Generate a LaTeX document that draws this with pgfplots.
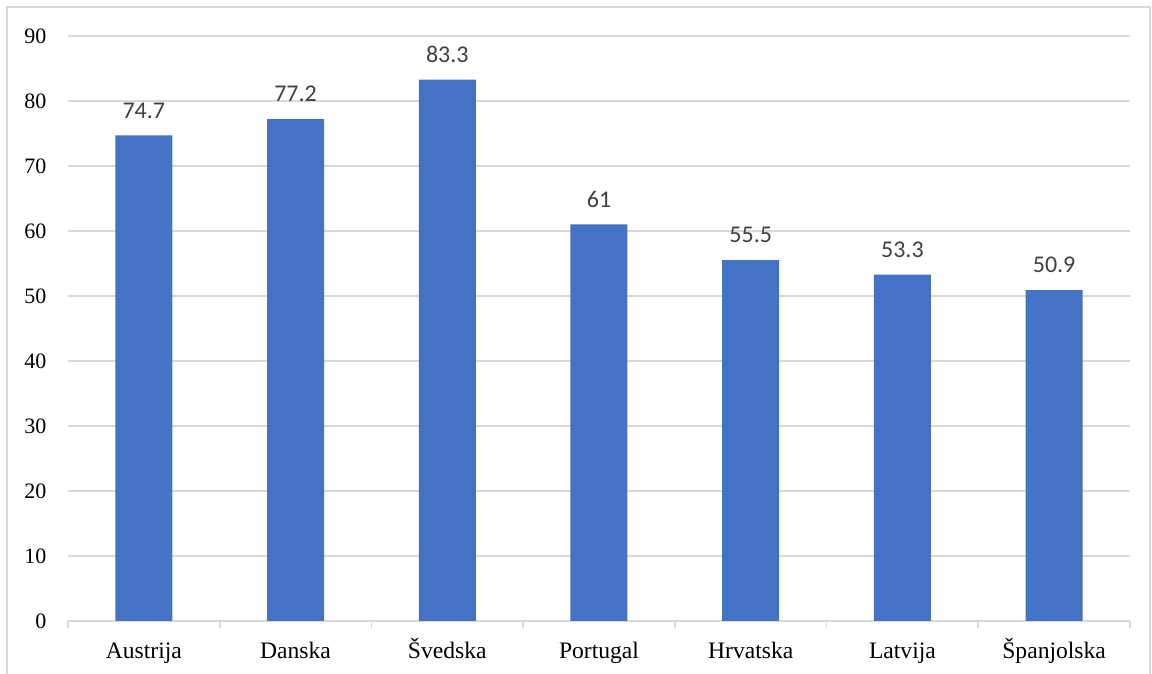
\documentclass[border=0pt]{standalone}
\usepackage{pgfplots}
\pgfplotsset{compat=1.18}
\usepackage{fontspec}
\setmainfont{Liberation Serif}
\newfontfamily\carlito{Carlito}
\definecolor{barblue}{HTML}{4472C4}
\definecolor{gridgrey}{HTML}{D9D9D9}
\definecolor{lblgrey}{HTML}{404040}
\begin{document}
\begin{tikzpicture}
\path[use as bounding box] (0,0) rectangle (576pt,337pt);
\draw[gridgrey, line width=0.6pt] (3.5pt,-10pt) -- (3.5pt,333.5pt) -- (575pt,333.5pt) -- (575pt,-10pt);
\begin{axis}[
  at={(34pt,26.5pt)}, anchor=south west,
  scale only axis, width=531pt, height=292.5pt,
  xmin=-0.5, xmax=6.5, ymin=0, ymax=90,
  axis x line*=bottom, axis y line*=left,
  y axis line style={draw=none},
  x axis line style={draw=gridgrey, line width=0.8pt},
  ytick={0,10,...,90},
  ytick style={draw=none},
  ymajorgrids, major grid style={gridgrey, line width=0.8pt},
  xtick={0,...,6},
  xticklabels={Austrija,Danska,Švedska,Portugal,Hrvatska,Latvija,Španjolska},
  major x tick style={draw=none},
  minor xtick={-0.5,0.5,...,6.5},
  minor x tick style={draw=gridgrey, line width=0.8pt},
  minor tick length=3.5pt,
  tick align=outside,
  /pgf/number format/assume math mode=true,
  tick label style={font=\fontsize{11}{13}\selectfont, black},
  y tick label style={xshift=-3pt},
  x tick label style={font=\fontsize{11.8}{14}\selectfont, anchor=north, text height=8pt, text depth=2.6pt, yshift=-2.8pt},
  ybar, bar width=28.5pt,
  nodes near coords={\pgfmathprintnumber[fixed,precision=1]{\pgfplotspointmeta}},
  every node near coord/.append style={font=\carlito\fontsize{12}{14}\selectfont, color=lblgrey, yshift=5pt},
  clip=false,
]
\addplot[fill=barblue, draw=none] coordinates {
(0,74.7) (1,77.2) (2,83.3) (3,61) (4,55.5) (5,53.3) (6,50.9)
};
\end{axis}
\end{tikzpicture}
\end{document}
